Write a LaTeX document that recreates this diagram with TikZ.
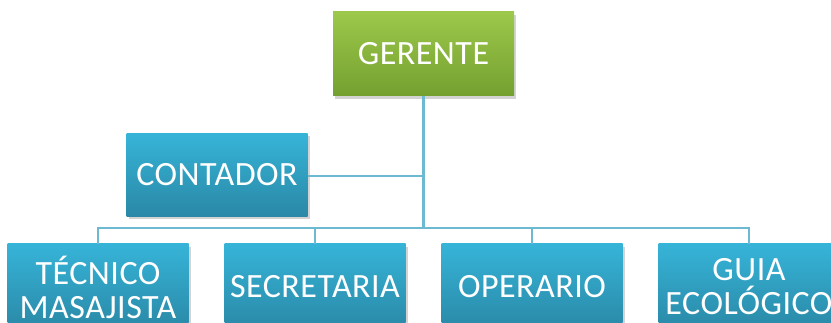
\documentclass[tikz,border=0pt]{standalone}
\usepackage{fontspec}
\setmainfont{Carlito}[LetterSpace=1.5]
\usetikzlibrary{shadows}
\definecolor{gtop}{HTML}{9CC84B}
\definecolor{gbot}{HTML}{74A030}
\definecolor{btop}{HTML}{36B4D8}
\definecolor{bbot}{HTML}{2A88A6}
\definecolor{linec}{HTML}{6CB9D1}
\tikzset{
  box/.style={minimum width=181pt, inner sep=0pt, align=center, text=white,
    font=\fontsize{34}{34}\selectfont,
    drop shadow={shadow xshift=2pt, shadow yshift=-3pt, opacity=0.35}},
  greenbox/.style={box, top color=gtop, bottom color=gbot, minimum height=84pt},
  bluebox/.style={box, top color=btop, bottom color=bbot, minimum height=83pt},
  conn/.style={draw=linec, line width=2.4pt}
}
\begin{document}
\begin{tikzpicture}[x=1pt,y=-1pt]
\useasboundingbox (0,0) rectangle (831,323);
\clip (0,0) rectangle (831,323);
\node[greenbox] (ger) at (423.5,54) {GERENTE};
\node[bluebox] (con) at (217,175) {CONTADOR};
\node[bluebox, minimum height=86pt] (tec) at (98,287) {TÉCNICO\\MASAJISTA};
\node[bluebox, minimum height=86pt] (sec) at (315,287) {SECRETARIA};
\node[bluebox, minimum height=86pt] (ope) at (532,287) {OPERARIO};
\node[bluebox, minimum height=86pt] (gui) at (749,287) {GUIA\\ECOLÓGICO};
\coordinate (bus) at (423.5,228);
\coordinate (cj) at (423.5,176);
\draw[conn] (ger.south) -- (bus);
\draw[conn] (con.east |- cj) -- (cj);
\draw[conn] (tec.north) -- (tec.north |- bus) -- (gui.north |- bus) -- (gui.north);
\draw[conn] (sec.north) -- (sec.north |- bus);
\draw[conn] (ope.north) -- (ope.north |- bus);
\end{tikzpicture}
\end{document}
